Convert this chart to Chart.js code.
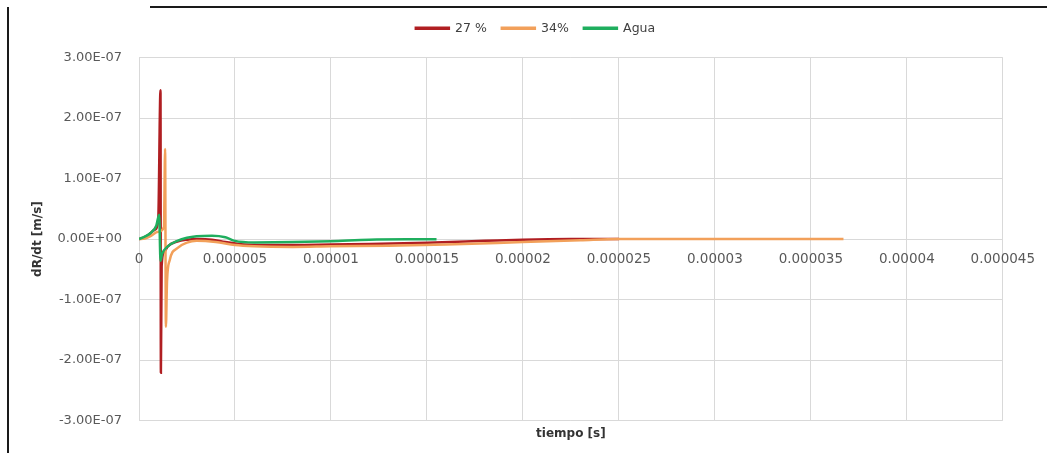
<!DOCTYPE html>
<html>
<head>
<meta charset="utf-8">
<script src="https://cdn.jsdelivr.net/npm/chart.js@4/dist/chart.umd.min.js"></script>
<style>
  html, body { margin: 0; padding: 0; background: #fff; }
  #wrap { position: relative; width: 1047px; height: 453px; }
  #frame { position: absolute; left: 7px; top: 7px; right: 0; bottom: 0;
           border-left: 2px solid #1a1a1a; pointer-events: none; }
  #topline { position: absolute; left: 150px; right: 0; top: 6px; height: 2px;
             background: #1a1a1a; pointer-events: none; }
</style>
</head>
<body>
<div id="wrap">
  <canvas id="chart" width="1047" height="453"></canvas>
  <div id="frame"></div>
  <div id="topline"></div>
</div>
<script>
// tiempo [s] / dR/dt [m/s]
const t27 = [0, 2e-7, 5e-7, 8e-7, 1.0e-6, 1.12e-6, 1.14e-6, 1.18e-6, 1.3e-6, 1.5e-6, 2e-6, 2.5e-6, 3e-6, 3.8e-6, 4.5e-6, 5.5e-6, 7e-6, 1e-5, 1.2e-5, 1.5e-5, 1.8e-5, 2e-5, 2.25e-5, 2.5e-5];
const v27 = [0, 0.02e-7, 0.07e-7, 0.15e-7, 0.3e-7, 2.46e-7, -2.21e-7, -0.45e-7, -0.22e-7, -0.12e-7, -0.04e-7, -0.01e-7, 0.0, -0.01e-7, -0.05e-7, -0.09e-7, -0.1e-7, -0.09e-7, -0.08e-7, -0.06e-7, -0.03e-7, -0.01e-7, 0, 0];

const t34 = [0, 3e-7, 6e-7, 1.0e-6, 1.3e-6, 1.36e-6, 1.40e-6, 1.46e-6, 1.6e-6, 2e-6, 2.5e-6, 3e-6, 4e-6, 5e-6, 6e-6, 8e-6, 1e-5, 1.3e-5, 1.6e-5, 2e-5, 2.3e-5, 2.5e-5, 3e-5, 3.67e-5];
const v34 = [0, 0.01e-7, 0.05e-7, 0.12e-7, 0.2e-7, 1.49e-7, -1.45e-7, -0.7e-7, -0.35e-7, -0.15e-7, -0.06e-7, -0.03e-7, -0.05e-7, -0.1e-7, -0.12e-7, -0.13e-7, -0.12e-7, -0.11e-7, -0.09e-7, -0.05e-7, -0.02e-7, 0, 0, 0];

const tAgua = [0, 3e-7, 6e-7, 9e-7, 1.05e-6, 1.12e-6, 1.2e-6, 1.5e-6, 2e-6, 2.5e-6, 3e-6, 3.8e-6, 4.5e-6, 5e-6, 6e-6, 8e-6, 1e-5, 1.2e-5, 1.4e-5, 1.55e-5];
const vAgua = [0, 0.04e-7, 0.1e-7, 0.22e-7, 0.4e-7, -0.36e-7, -0.25e-7, -0.12e-7, -0.03e-7, 0.02e-7, 0.045e-7, 0.055e-7, 0.03e-7, -0.03e-7, -0.055e-7, -0.05e-7, -0.035e-7, -0.01e-7, -0.005e-7, -0.005e-7];

const seriesNames = ['27 %', '34%', 'Agua'];
const seriesColors = ['#b01e22', '#f2a05a', '#1fae5e'];

const toXY = (xs, ys) => xs.map((x, i) => ({ x: x, y: ys[i] }));

const sciLabel = v => {
  if (Math.abs(v) < 1e-12) return '0.00E+00';
  const [m, e] = v.toExponential(2).split('e');
  const n = parseInt(e, 10);
  return m + 'E' + (n < 0 ? '-' : '+') + String(Math.abs(n)).padStart(2, '0');
};
const timeLabel = v => (Math.abs(v) < 1e-12 ? '0' : parseFloat(v.toPrecision(6)).toString());

const titleFont = { family: 'DejaVu Sans', size: 12, weight: 'bold' };

// draw the legend a little up and to the right of where the layout puts it
const legendNudge = {
  id: 'legendNudge',
  beforeInit(chart) {
    const draw = chart.legend.draw;
    chart.legend.draw = function (area) {
      const ctx = this.ctx;
      ctx.save();
      ctx.translate(33, -13);
      draw.call(this, area);
      ctx.restore();
    };
  }
};

const makeSet = (i, xs, ys, order) => ({
  label: seriesNames[i],
  data: toXY(xs, ys),
  borderColor: seriesColors[i],
  backgroundColor: seriesColors[i],
  borderWidth: 2.5,
  pointRadius: 0,
  cubicInterpolationMode: 'monotone',
  order: order
});

new Chart(document.getElementById('chart'), {
  type: 'line',
  data: {
    datasets: [
      makeSet(0, t27, v27, 2),
      makeSet(1, t34, v34, 1),
      makeSet(2, tAgua, vAgua, 0)
    ]
  },
  plugins: [legendNudge],
  options: {
    responsive: false,
    animation: false,
    layout: { padding: { top: 20, right: 42, bottom: 12, left: 0 } },
    plugins: {
      tooltip: { enabled: false },
      legend: {
        position: 'top',
        labels: {
          boxWidth: 33,
          boxHeight: 1,
          padding: 15,
          color: '#404040',
          font: { family: 'DejaVu Sans', size: 12.5 },
          sort: (a, b) => a.datasetIndex - b.datasetIndex
        }
      }
    },
    scales: {
      x: {
        type: 'linear',
        position: { y: 0 },
        min: 0,
        max: 4.5e-5,
        border: { display: false },
        grid: { color: '#d9d9d9', drawTicks: false },
        ticks: { stepSize: 5e-6, padding: 12, color: '#595959', font: { family: 'DejaVu Sans', size: 13.5 }, callback: timeLabel, maxRotation: 0, autoSkip: false }
      },
      xTitle: {
        type: 'linear',
        position: 'bottom',
        min: 0,
        max: 4.5e-5,
        border: { display: false },
        grid: { display: false, drawTicks: false },
        ticks: { display: false },
        title: { display: true, text: 'tiempo [s]', color: '#333333', font: titleFont, padding: { top: 6, bottom: 0 } }
      },
      y: {
        min: -3e-7,
        max: 3e-7,
        border: { display: false },
        grid: { color: '#d9d9d9', drawTicks: false },
        ticks: { stepSize: 1e-7, padding: 17, color: '#595959', font: { family: 'DejaVu Sans', size: 13 }, callback: sciLabel },
        title: { display: true, text: 'dR/dt [m/s]', color: '#333333', font: titleFont, padding: { top: 31, bottom: 0 } },
        afterFit: scale => { scale.width = 139; }
      }
    }
  }
});
</script>
</body>
</html>
